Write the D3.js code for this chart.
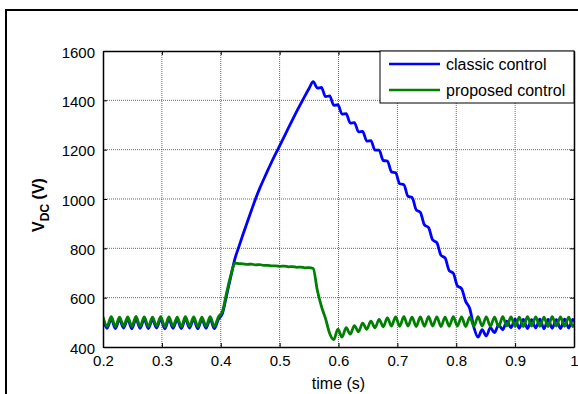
<!DOCTYPE html>
<html>
<head>
<meta charset="utf-8">
<script src="https://cdn.jsdelivr.net/npm/d3@7/dist/d3.min.js"></script>
<style>
  html, body { margin: 0; padding: 0; background: #fff; }
  svg { display: block; font-family: "Liberation Sans", Arial, sans-serif; }
</style>
</head>
<body>
<svg id="chart" width="578" height="394"></svg>
<script>
// ---- data ----
const seriesNames = ["classic control", "proposed control"];
const xTicks = [0.2, 0.3, 0.4, 0.5, 0.6, 0.7, 0.8, 0.9, 1.0];
const xTickLabels = ["0.2", "0.3", "0.4", "0.5", "0.6", "0.7", "0.8", "0.9", "1"];
const yTicks = [400, 600, 800, 1000, 1200, 1400, 1600];
// samples every 7 ms starting at t = 0.2 s
const tStart = 0.2, tStep = 0.007;
const classicVdc = [
  512, 476, 513, 475, 511, 477, 512, 474, 513, 476,
  512, 475, 511, 477, 513, 474, 512, 476, 511, 475,
  513, 477, 512, 474, 511, 476, 513, 475, 512, 537,
  610, 684, 757, 808, 858, 906, 953, 1000, 1042, 1080,
  1117, 1153, 1187, 1220, 1254, 1288, 1322, 1355, 1387, 1418,
  1448, 1476, 1450, 1452, 1415, 1418, 1380, 1382, 1344, 1346,
  1308, 1310, 1272, 1274, 1235, 1237, 1198, 1198, 1156, 1154,
  1110, 1106, 1062, 1058, 1011, 1006, 956, 946, 895, 884,
  834, 823, 772, 761, 710, 699, 648, 637, 585, 555,
  480, 440, 470, 445, 478, 458, 490, 470, 505, 478,
  513, 476, 512, 475, 511, 477, 513, 474, 512, 476,
  511, 475, 513, 477, 512, 475
];
const proposedVdc = [
  522, 484, 523, 483, 521, 485, 522, 483, 524, 484,
  522, 483, 521, 485, 523, 482, 522, 484, 521, 483,
  523, 485, 522, 483, 521, 484, 523, 483, 522, 545,
  620, 690, 740, 738, 737, 735, 736, 733, 734, 731,
  731, 729, 729, 727, 728, 725, 726, 723, 724, 721,
  722, 718, 630, 565, 515, 455, 430, 472, 440, 478,
  452, 487, 462, 497, 472, 505, 478, 512, 482, 518,
  485, 522, 484, 523, 485, 521, 483, 522, 484, 523,
  485, 522, 483, 521, 484, 523, 485, 522, 483, 521,
  484, 523, 485, 522, 484, 521, 483, 523, 485, 522,
  484, 521, 483, 523, 485, 522, 484, 521, 483, 523,
  485, 522, 484, 521, 483, 522
];

// ---- layout ----
const svg = d3.select("#chart");
const L = 103, R = 574, T = 51, B = 347;
const x = d3.scaleLinear().domain([0.2, 1.0]).range([L, R]);
const y = d3.scaleLinear().domain([400, 1600]).range([B, T]);

// outer frame
svg.append("rect").attr("x", 6).attr("y", 10).attr("width", 600).attr("height", 420)
  .attr("fill", "#fff").attr("stroke", "#000").attr("stroke-width", 2);

// grid
const grid = svg.append("g");
xTicks.slice(1, -1).forEach(v => {
  grid.append("line").attr("x1", x(v)).attr("x2", x(v)).attr("y1", T).attr("y2", B)
    .attr("stroke", "#6a6a6a").attr("stroke-width", 1).attr("stroke-dasharray", "1,1");
});
yTicks.slice(1, -1).forEach(v => {
  grid.append("line").attr("x1", L).attr("x2", R).attr("y1", y(v)).attr("y2", y(v))
    .attr("stroke", "#6a6a6a").attr("stroke-width", 1).attr("stroke-dasharray", "1,1");
});

// clip
svg.append("defs").append("clipPath").attr("id", "clip")
  .append("rect").attr("x", L).attr("y", T).attr("width", R - L).attr("height", B - T);

const toPts = arr => arr.map((v, i) => [tStart + i * tStep, v]);
const line = d3.line().x(d => x(d[0])).y(d => y(d[1])).curve(d3.curveMonotoneX);
const plot = svg.append("g").attr("clip-path", "url(#clip)");
plot.append("path").attr("d", line(toPts(classicVdc)))
  .attr("fill", "none").attr("stroke", "#0000ff").attr("stroke-width", 2.8).attr("stroke-linejoin", "round");
plot.append("path").attr("d", line(toPts(proposedVdc)))
  .attr("fill", "none").attr("stroke", "#008000").attr("stroke-width", 2.8).attr("stroke-linejoin", "round");

// axes (MATLAB style: inward ticks, box)
const axB = svg.append("g").attr("transform", `translate(0,${B})`)
  .call(d3.axisBottom(x).tickValues(xTicks).tickFormat((d, i) => xTickLabels[i]).tickSizeInner(-4).tickSizeOuter(0).tickPadding(8));
const axT = svg.append("g").attr("transform", `translate(0,${T})`)
  .call(d3.axisTop(x).tickValues(xTicks).tickFormat("").tickSizeInner(-4).tickSizeOuter(0));
const axL = svg.append("g").attr("transform", `translate(${L},0)`)
  .call(d3.axisLeft(y).tickValues(yTicks).tickFormat(d3.format("d")).tickSizeInner(-4).tickSizeOuter(0).tickPadding(8));
const axR = svg.append("g").attr("transform", `translate(${R},0)`)
  .call(d3.axisRight(y).tickValues(yTicks).tickFormat("").tickSizeInner(-4).tickSizeOuter(0));
[axB, axT, axL, axR].forEach(g => {
  g.selectAll(".domain").attr("stroke", "#000").attr("stroke-width", 1.5);
  g.selectAll(".tick line").attr("stroke", "#000");
  g.selectAll("text").attr("fill", "#000").style("font-size", "15px")
    .style("font-family", "'Liberation Sans', Arial, sans-serif");
});
axL.selectAll("text").attr("dy", "0.42em");

// legend
const lg = svg.append("g");
lg.append("rect").attr("x", 380).attr("y", T).attr("width", R - 380).attr("height", 52)
  .attr("fill", "#fff").attr("stroke", "#000").attr("stroke-width", 1);
const legColors = ["#0000ff", "#008000"];
seriesNames.forEach((n, i) => {
  const yy = 64 + i * 26;
  lg.append("line").attr("x1", 389).attr("x2", 440).attr("y1", yy).attr("y2", yy)
    .attr("stroke", legColors[i]).attr("stroke-width", 2.5);
  lg.append("text").attr("x", 446).attr("y", yy + 6).text(n)
    .style("font-size", "16px").attr("fill", "#000");
});

// axis labels
svg.append("text").attr("x", (L + R) / 2).attr("y", 389).attr("text-anchor", "middle")
  .style("font-size", "16px").text("time (s)");
const yl = svg.append("text").attr("transform", `translate(44,${(T + B) / 2 + 6}) rotate(-90)`)
  .attr("text-anchor", "middle").style("font-size", "16px").style("font-weight", "bold");
yl.append("tspan").text("V");
yl.append("tspan").attr("dy", 5).style("font-size", "12px").text("DC");
yl.append("tspan").attr("dy", -5).text(" (V)");
</script>
</body>
</html>
